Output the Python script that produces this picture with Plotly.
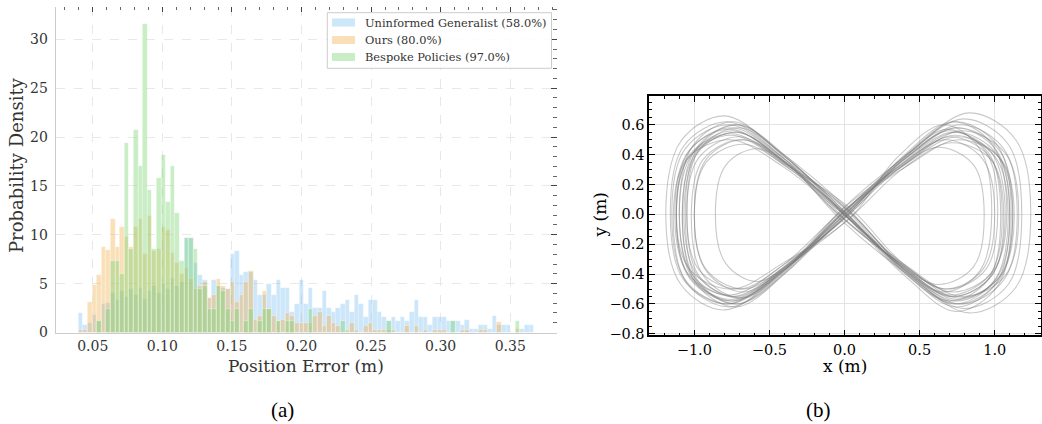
import numpy as np
import plotly.graph_objects as go

# ---------------- Histogram data (probability density per bin) ----------------
BIN_START = 0.0397
BIN_WIDTH = 0.003305

uninformed_generalist = [
    2.0, 0.8, 1.0, 1.8, 1.2, 2.9, 3.0, 4.0, 3.3, 4.2,
    3.6, 4.4, 3.8, 4.6, 3.4, 4.2, 4.8, 4.0, 5.0, 4.4,
    5.6, 4.8, 5.2, 9.7, 9.7, 7.1, 5.9, 5.4, 3.5, 5.4,
    4.8, 4.6, 4.5, 8.0, 8.3, 5.9, 6.2, 6.2, 5.4, 3.8,
    3.8, 5.0, 3.8, 5.4, 4.6, 4.6, 2.1, 2.9, 5.4, 2.9,
    4.6, 2.5, 2.5, 4.2, 2.5, 2.1, 2.5, 2.9, 3.3, 2.1,
    3.8, 2.9, 1.6, 3.3, 3.3, 2.1, 1.6, 1.2, 1.6, 1.2,
    1.6, 1.2, 2.1, 3.3, 1.6, 1.6, 0.75, 1.6, 1.6, 1.6,
    1.2, 1.2, 1.2, 0.75, 1.3, 0.4, 0.4, 0.75, 0.75, 0.4,
    1.7, 0.75, 0.75, 0.75, 0.0, 0.0, 0.4, 0.75, 0.75,
]
ours = [
    0.3, 0.3, 3.1, 4.9, 5.9, 8.7, 8.4, 11.6, 8.7, 10.8,
    9.8, 8.7, 10.8, 11.6, 8.0, 11.9, 8.3, 8.5, 10.8, 10.5,
    8.1, 7.1, 6.0, 6.6, 5.5, 4.5, 4.8, 5.2, 3.5, 3.8,
    5.5, 4.8, 4.5, 5.2, 3.1, 3.8, 5.2, 6.3, 1.3, 1.7,
    4.2, 2.4, 1.7, 1.2, 1.3, 2.0, 1.7, 1.0, 1.0, 1.0,
    1.0, 1.7, 2.1, 0.65, 1.7, 1.0, 0.65, 0.0, 0.3, 1.0,
    0.3, 0.0, 0.65, 1.0, 0.3, 0.3, 0.3, 0.3, 0.3, 0.0,
    0.0, 0.65, 0.0, 0.65, 0.0, 0.3, 0.0, 0.3, 0.3, 0.3,
    0.0, 0.0, 0.0, 0.3, 0.3, 0.0, 0.0, 0.3, 0.3, 0.0,
    0.0, 1.05, 0.0, 0.0, 0.0, 0.4, 0.0, 0.0, 0.0,
]
bespoke_policies = [
    0.0, 0.0, 0.0, 0.0, 1.2, 0.0, 2.4, 7.3, 7.3, 6.0,
    19.4, 8.5, 20.7, 17.0, 31.6, 14.6, 8.5, 15.8, 18.2, 13.4,
    17.0, 12.2, 7.3, 9.7, 9.7, 8.5, 4.5, 4.8, 2.4, 2.4,
    4.8, 4.2, 2.4, 1.2, 2.4, 0.0, 1.2, 2.4, 0.0, 1.2,
    2.4, 2.4, 0.0, 1.2, 0.0, 1.2, 1.2, 0.0, 0.0, 0.0,
    2.4, 0.0, 0.0, 0.0, 0.0, 0.0, 0.0, 1.2, 0.0, 0.0,
    0.0, 0.0, 0.0, 0.0, 0.0, 0.0, 0.0, 1.2, 0.0, 0.0,
    0.0, 0.0, 0.0, 0.0, 0.0, 0.0, 0.0, 0.0, 0.0, 0.0,
    0.0, 1.2, 0.0, 0.0, 0.0, 0.0, 0.0, 0.0, 0.0, 0.0,
    0.0, 0.0, 0.0, 0.0, 0.0, 1.2, 0.0, 0.0, 0.0,
]
series_names = ["Uninformed Generalist (58.0%)", "Ours (80.0%)", "Bespoke Policies (97.0%)"]
series_colors = ["rgba(100,180,240,0.33)", "rgba(240,170,60,0.36)", "rgba(120,210,110,0.40)"]

x_ticks_left = [0.05, 0.10, 0.15, 0.20, 0.25, 0.30, 0.35]
y_ticks_left = [0, 5, 10, 15, 20, 25, 30]

# ---------------- Trajectory data (figure-8 runs) ----------------
traj_x = [
    [0, .39, .72, .98, 1.07, .98, .72, .39, 0, -.39, -.72, -.98, -1.07, -.98, -.72, -.39, 0],
    [.03, .40, .75, 1.03, 1.12, 1.03, .75, .40, .03, -.40, -.75, -1.03, -1.12, -1.03, -.75, -.40, .03],
    [-.02, .36, .67, .92, 1.0, .92, .67, .36, -.02, -.36, -.67, -.92, -1.0, -.92, -.67, -.36, -.02],
    [.02, .41, .77, 1.06, 1.15, 1.06, .77, .41, .02, -.38, -.70, -.97, -1.05, -.97, -.70, -.38, .02],
    [-.03, .38, .70, .97, 1.05, .97, .70, .38, -.03, -.41, -.77, -1.06, -1.15, -1.06, -.77, -.41, -.03],
    [.02, .45, .83, 1.14, 1.24, 1.14, .83, .45, .02, -.43, -.80, -1.09, -1.19, -1.09, -.80, -.43, .02],
    [0, .33, .62, .86, .93, .86, .62, .33, 0, -.31, -.58, -.79, -.86, -.79, -.58, -.31, 0],
    [.01, .40, .74, 1.01, 1.10, 1.01, .74, .40, .01, -.40, -.74, -1.01, -1.10, -1.01, -.74, -.40, .01],
    [.05, .39, .72, .99, 1.08, .99, .72, .39, .05, -.37, -.68, -.94, -1.02, -.94, -.68, -.37, .05],
    [-.04, .41, .76, 1.04, 1.13, 1.04, .76, .41, -.04, -.41, -.76, -1.04, -1.13, -1.04, -.76, -.41, -.04],
    [0, .37, .68, .94, 1.02, .94, .68, .37, 0, -.39, -.72, -.99, -1.08, -.99, -.72, -.39, 0],
    [-.02, .42, .79, 1.09, 1.18, 1.09, .79, .42, -.02, -.42, -.78, -1.07, -1.16, -1.07, -.78, -.42, -.02],
    [.03, .38, .71, .98, 1.06, .98, .71, .38, .03, -.36, -.67, -.92, -1.0, -.92, -.67, -.36, .03],
    [-.01, .40, .74, 1.01, 1.10, 1.01, .74, .40, -.01, -.39, -.72, -.99, -1.08, -.99, -.72, -.39, -.01],
    [0, .39, .73, 1.0, 1.09, 1.0, .73, .39, 0, -.40, -.75, -1.03, -1.12, -1.03, -.75, -.40, 0],
    [.02, .37, .70, .96, 1.04, .96, .70, .37, .02, -.38, -.70, -.97, -1.05, -.97, -.70, -.38, .02],
    [0, .40, .75, 1.03, 1.12, 1.03, .75, .40, 0, -.40, -.74, -1.01, -1.10, -1.01, -.74, -.40, 0],
    [-.02, .42, .78, 1.07, 1.16, 1.07, .78, .42, -.02, -.41, -.76, -1.05, -1.14, -1.05, -.76, -.41, -.02],
    [.04, .35, .66, .90, .98, .90, .66, .35, .04, -.40, -.75, -1.03, -1.12, -1.03, -.75, -.40, .04],
    [0, .40, .74, 1.02, 1.11, 1.02, .74, .40, 0, -.38, -.71, -.98, -1.06, -.98, -.71, -.38, 0],
]
traj_y = [
    [0, .35, .55, .41, 0, -.41, -.55, -.35, 0, .35, .55, .41, 0, -.41, -.55, -.35, 0],
    [.02, .37, .58, .43, .01, -.42, -.57, -.36, .02, .37, .58, .43, 0, -.43, -.58, -.37, .02],
    [-.02, .32, .50, .37, 0, -.37, -.50, -.32, -.02, .32, .50, .37, 0, -.37, -.50, -.32, -.02],
    [-.01, .38, .60, .44, -.02, -.44, -.60, -.38, -.01, .33, .52, .38, 0, -.37, -.50, -.32, -.01],
    [.02, .33, .52, .38, 0, -.40, -.54, -.34, .02, .38, .60, .44, .02, -.44, -.60, -.38, .02],
    [.04, .43, .68, .50, .02, -.49, -.66, -.42, .04, .42, .66, .49, 0, -.47, -.64, -.40, .04],
    [-.03, .28, .45, .33, 0, -.35, -.47, -.30, -.03, .28, .44, .33, 0, -.33, -.45, -.28, -.03],
    [.03, .35, .55, .41, 0, -.46, -.62, -.39, .03, .35, .56, .41, 0, -.43, -.58, -.37, .03],
    [.03, .39, .62, .46, 0, -.38, -.52, -.33, .03, .32, .50, .37, 0, -.41, -.56, -.35, .03],
    [0, .32, .50, .37, 0, -.41, -.56, -.35, 0, .36, .57, .42, 0, -.40, -.54, -.34, 0],
    [.05, .36, .57, .42, .02, -.37, -.50, -.32, .05, .35, .55, .41, 0, -.44, -.60, -.38, .05],
    [-.04, .40, .64, .47, 0, -.47, -.63, -.40, -.04, .39, .62, .46, 0, -.44, -.60, -.38, -.04],
    [-.03, .30, .48, .36, 0, -.41, -.55, -.35, -.03, .30, .47, .35, 0, -.38, -.52, -.33, -.03],
    [.01, .37, .58, .43, 0, -.43, -.58, -.37, .01, .38, .60, .44, 0, -.46, -.62, -.39, .01],
    [.01, .33, .53, .39, 0, -.44, -.60, -.38, .01, .33, .53, .39, 0, -.42, -.57, -.36, .01],
    [0, .35, .56, .41, 0, -.43, -.58, -.37, 0, .37, .58, .43, 0, -.41, -.56, -.35, 0],
    [.02, .33, .52, .38, 0, -.44, -.60, -.38, .02, .39, .62, .46, 0, -.41, -.55, -.35, .02],
    [.01, .35, .56, .41, 0, -.41, -.55, -.35, .01, .32, .50, .37, 0, -.46, -.62, -.39, .01],
    [-.02, .38, .60, .44, 0, -.38, -.52, -.33, -.02, .34, .54, .40, 0, -.37, -.50, -.32, -.02],
    [0, .39, .62, .46, 0, -.48, -.65, -.41, 0, .38, .60, .44, 0, -.44, -.60, -.38, 0],
]

# ---------------- Figure ----------------
W, H = 1042, 424
SERIF = "DejaVu Serif"
TIMES = "Liberation Serif"


def px_x(p):
    return p / W


def px_y(p):
    return 1 - p / H


n_bins = len(uninformed_generalist)
centers = BIN_START + BIN_WIDTH * (np.arange(n_bins) + 0.5)

fig = go.Figure()
for name, vals, col in zip(series_names, [uninformed_generalist, ours, bespoke_policies], series_colors):
    fig.add_trace(go.Bar(
        x=centers, y=vals, width=BIN_WIDTH, name=name, showlegend=False,
        marker=dict(color=col, line=dict(color="rgba(255,255,255,0.55)", width=0.6)),
        xaxis="x", yaxis="y",
    ))

# invisible trace for the mirrored tick axes on the histogram
fig.add_trace(go.Scatter(x=[0.1], y=[1], xaxis="x3", yaxis="y3", mode="markers",
                         marker=dict(opacity=0), showlegend=False, hoverinfo="skip"))

for tx, ty in zip(traj_x, traj_y):
    fig.add_trace(go.Scatter(
        x=tx, y=ty, mode="lines", xaxis="x2", yaxis="y2", showlegend=False,
        line=dict(color="rgba(125,125,125,0.42)", width=1.1, shape="spline", smoothing=1.0),
        hoverinfo="skip",
    ))

xr_left = [0.0233, 0.3833]
yr_left = [0, 33.3]
left_dom_x = [px_x(55.6), px_x(556.6)]
left_dom_y = [px_y(332.5), px_y(7)]

fig.update_layout(
    width=W, height=H,
    margin=dict(l=0, r=0, t=0, b=0, autoexpand=False),
    paper_bgcolor="white", plot_bgcolor="white",
    barmode="overlay", bargap=0,
    font=dict(family=SERIF, color="#333333"),
    showlegend=False,
    xaxis=dict(
        domain=left_dom_x, anchor="y", range=xr_left, automargin=False,
        tickmode="array", tickvals=x_ticks_left, ticktext=[f"{v:.2f}" for v in x_ticks_left],
        ticks="", ticklen=0, showline=True, linecolor="#cccccc", linewidth=1,
        showgrid=True, gridcolor="#e8e8e8", griddash="dash", gridwidth=1,
        zeroline=False, tickfont=dict(family=SERIF, size=14, color="#333333"),
        ticklabelstandoff=1,
    ),
    yaxis=dict(
        domain=left_dom_y, anchor="x", range=yr_left, automargin=False,
        tickmode="array", tickvals=y_ticks_left,
        ticks="", ticklen=0, showline=True, linecolor="#cccccc", linewidth=1,
        showgrid=True, gridcolor="#e8e8e8", griddash="dash", gridwidth=1,
        zeroline=False, tickfont=dict(family=SERIF, size=14, color="#333333"),
        ticklabelstandoff=4,
    ),
    xaxis3=dict(
        overlaying="x", side="top", anchor="y", range=xr_left, automargin=False,
        tickmode="linear", tick0=0.05, dtick=0.05,
        ticks="inside", ticklen=5, tickwidth=1, tickcolor="#444444",
        minor=dict(tick0=0.0, dtick=0.01, ticks="inside", ticklen=3, tickwidth=1,
                   tickcolor="#666666", showgrid=False),
        showticklabels=False, showgrid=False, showline=False, zeroline=False,
    ),
    yaxis3=dict(
        overlaying="y", side="right", anchor="x", range=yr_left, automargin=False,
        tickmode="linear", tick0=0, dtick=5,
        ticks="inside", ticklen=6, tickwidth=1, tickcolor="#444444",
        minor=dict(tick0=0, dtick=1, ticks="inside", ticklen=3.5, tickwidth=1,
                   tickcolor="#666666", showgrid=False),
        showticklabels=False, showgrid=False, showline=False, zeroline=False,
    ),
    xaxis2=dict(
        domain=[px_x(649.3), px_x(1040.5)], anchor="y2", range=[-1.3, 1.305], automargin=False,
        tickmode="linear", tick0=0, dtick=0.5, tickformat=".1f",
        ticks="inside", ticklen=6, tickwidth=1, tickcolor="black",
        minor=dict(tick0=0, dtick=0.1, ticks="inside", ticklen=3, tickwidth=1,
                   tickcolor="black", showgrid=False),
        showline=True, linecolor="black", linewidth=1.6, mirror="allticks",
        showgrid=True, gridcolor="#e3e3e3", gridwidth=1, zeroline=False,
        tickfont=dict(family=SERIF, size=14.5, color="black"),
        ticklabelstandoff=0,
    ),
    yaxis2=dict(
        domain=[px_y(335.3), px_y(95.7)], anchor="x2", range=[-0.81, 0.795], automargin=False,
        tickmode="linear", tick0=0, dtick=0.2, tickformat=".1f",
        ticks="inside", ticklen=6, tickwidth=1, tickcolor="black",
        minor=dict(tick0=0, dtick=0.05, ticks="inside", ticklen=3, tickwidth=1,
                   tickcolor="black", showgrid=False),
        showline=True, linecolor="black", linewidth=1.6, mirror="allticks",
        showgrid=True, gridcolor="#e3e3e3", gridwidth=1, zeroline=False,
        tickfont=dict(family=SERIF, size=14.5, color="black"),
    ),
)

# ---- hand-placed legend (box, colour patches, labels) ----
LEG_BOX = (327.3, 12.7, 551.5, 68.3)
LEG_ROWS = [22.5, 40.0, 57.0]
shapes = [dict(type="rect", xref="paper", yref="paper",
               x0=px_x(LEG_BOX[0]), x1=px_x(LEG_BOX[2]),
               y0=px_y(LEG_BOX[3]), y1=px_y(LEG_BOX[1]),
               fillcolor="rgba(255,255,255,0.85)", line=dict(color="#cccccc", width=1),
               layer="above")]
annotations = []
for row_y, name, col in zip(LEG_ROWS, series_names, series_colors):
    shapes.append(dict(type="rect", xref="paper", yref="paper",
                       x0=px_x(332), x1=px_x(355), y0=px_y(row_y + 4), y1=px_y(row_y - 4),
                       fillcolor=col, line=dict(width=0), layer="above"))
    annotations.append(dict(text=name, x=px_x(363), y=px_y(row_y), xanchor="left",
                            yanchor="middle", font=dict(family=SERIF, size=11.4, color="#333333")))
fig.update_layout(shapes=shapes)

annotations += [
    dict(text="Probability Density", x=px_x(17), y=px_y(165), textangle=-90,
         font=dict(family=SERIF, size=18, color="#333333")),
    dict(text="Position Error (m)", x=px_x(306), y=px_y(366),
         font=dict(family=SERIF, size=17, color="#333333")),
    dict(text="y (m)", x=px_x(599), y=px_y(215.5), textangle=-90,
         font=dict(family=SERIF, size=17, color="black")),
    dict(text="x (m)", x=px_x(845), y=px_y(366),
         font=dict(family=SERIF, size=17, color="black")),
    dict(text="(a)", x=px_x(282), y=px_y(410),
         font=dict(family=TIMES, size=21, color="black")),
    dict(text="(b)", x=px_x(818), y=px_y(410),
         font=dict(family=TIMES, size=21, color="black")),
]
for a in annotations:
    a.setdefault("xanchor", "center")
    a.setdefault("yanchor", "middle")
    a.update(xref="paper", yref="paper", showarrow=False)
fig.update_layout(annotations=annotations)

fig.write_html("out.html", config={"displayModeBar": False},
               post_script="document.body.style.margin='0px';document.body.style.padding='0px';")
